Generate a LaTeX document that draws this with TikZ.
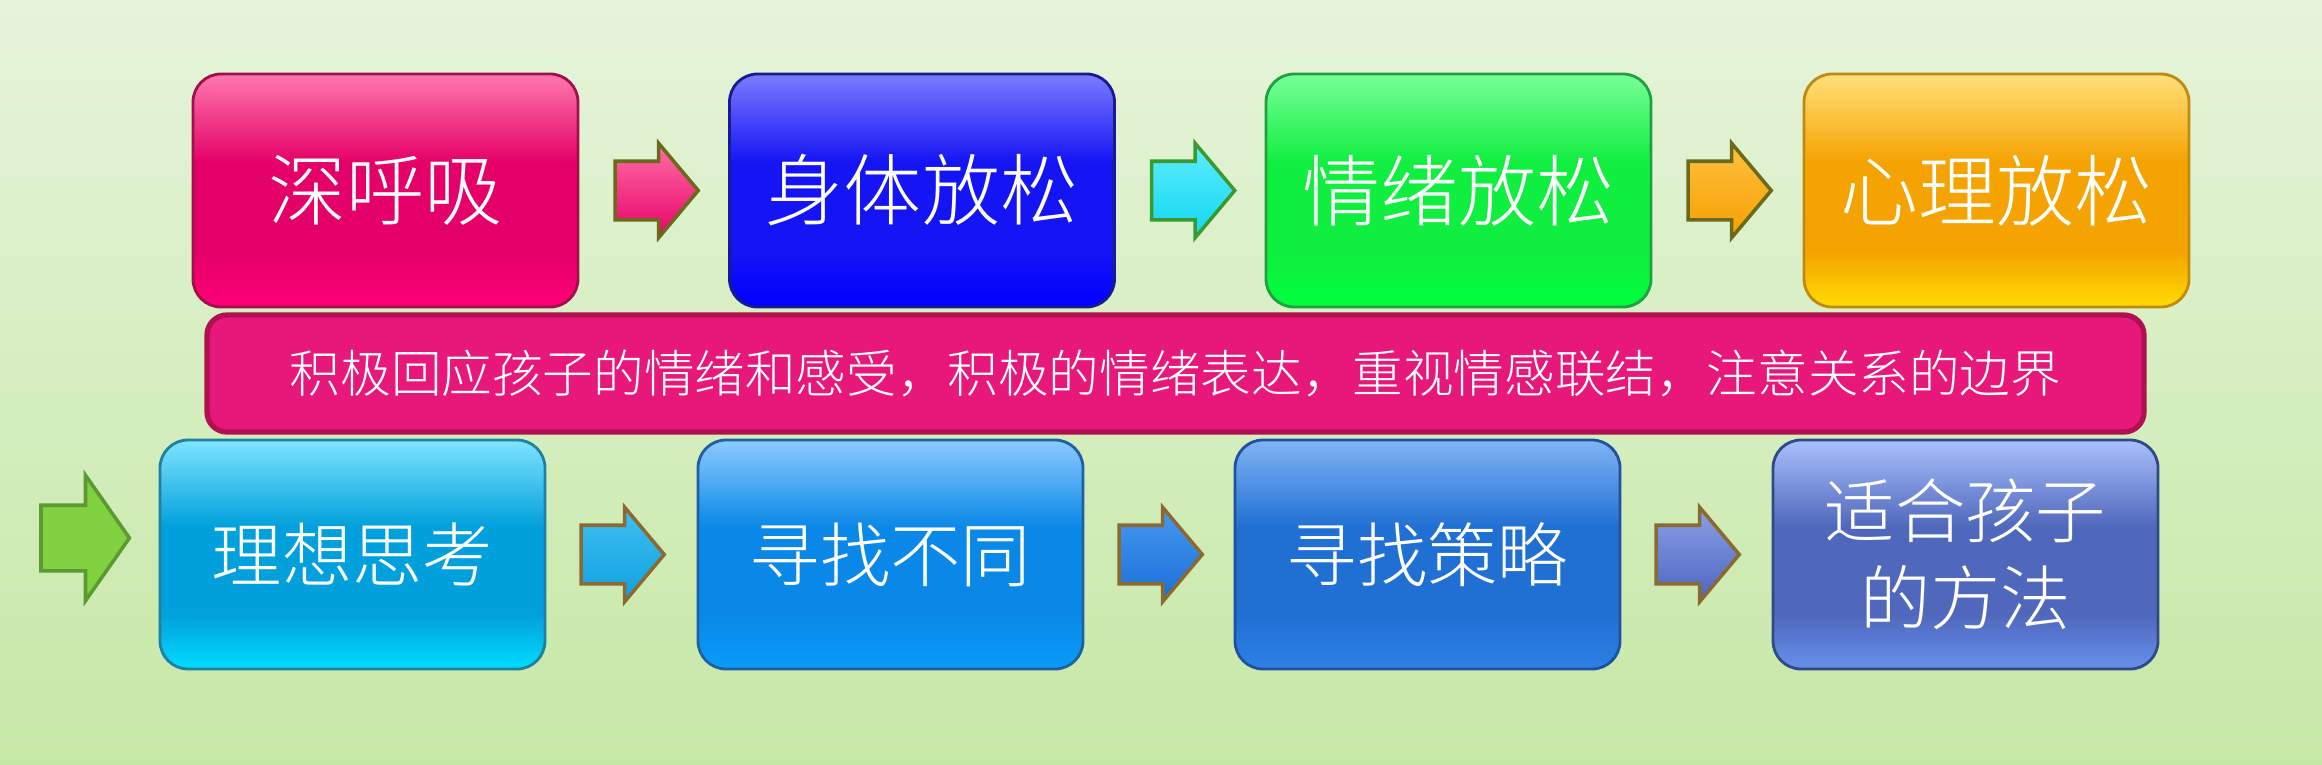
\documentclass[tikz,border=0pt]{standalone}
\usepackage{fontspec}
\IfFontExistsTF{Noto Sans CJK SC Light}
    {\newfontfamily\cjk{Noto Sans CJK SC Light}}
    {\newfontfamily\cjk{Noto Sans CJK SC}}
\usetikzlibrary{shapes.arrows}
\usetikzlibrary{positioning}

\definecolor{bgtop}{HTML}{E6F4DA}
\definecolor{bgbot}{HTML}{C6E8A6}
\definecolor{barfill}{HTML}{E8177A}
\definecolor{bardraw}{HTML}{B0104F}
\definecolor{olive}{HTML}{6A6A1A}
\definecolor{brownish}{HTML}{8A6A30}
% boxes: border, top, middle, bottom
\definecolor{Ad}{HTML}{A0104A}\definecolor{At}{HTML}{FF78AC}\definecolor{Am}{HTML}{E40068}\definecolor{Ab}{HTML}{FF0078}
\definecolor{Bd}{HTML}{1A1A90}\definecolor{Bt}{HTML}{7C7CFF}\definecolor{Bm}{HTML}{1414F4}\definecolor{Bb}{HTML}{0000FF}
\definecolor{Cd}{HTML}{20A040}\definecolor{Ct}{HTML}{78FF98}\definecolor{Cm}{HTML}{10EE40}\definecolor{Cb}{HTML}{00FF3C}
\definecolor{Dd}{HTML}{C08A10}\definecolor{Dt}{HTML}{FFE07A}\definecolor{Dm}{HTML}{F5A300}\definecolor{Db}{HTML}{FFDC00}
\definecolor{Ed}{HTML}{2080A0}\definecolor{Et}{HTML}{80E4FF}\definecolor{Em}{HTML}{00A0DC}\definecolor{Eb}{HTML}{00DCFF}
\definecolor{Fd}{HTML}{2060A0}\definecolor{Ft}{HTML}{8CCAFF}\definecolor{Fm}{HTML}{0A88E8}\definecolor{Fb}{HTML}{0A9CF8}
\definecolor{Gd}{HTML}{2050A0}\definecolor{Gt}{HTML}{80B4F4}\definecolor{Gm}{HTML}{2070D4}\definecolor{Gb}{HTML}{2E80E6}
\definecolor{Hd}{HTML}{304A88}\definecolor{Ht}{HTML}{A8C0FC}\definecolor{Hm}{HTML}{5068BC}\definecolor{Hb}{HTML}{6690EC}
% arrows: top, bottom
\definecolor{ABt}{HTML}{FF6FA6}\definecolor{ABb}{HTML}{E8006A}
\definecolor{BCt}{HTML}{60ECFF}\definecolor{BCb}{HTML}{10D8F0}\definecolor{BCd}{HTML}{3A9A30}
\definecolor{CDt}{HTML}{FFC040}\definecolor{CDb}{HTML}{F5A000}
\definecolor{EFt}{HTML}{40C0F0}\definecolor{EFb}{HTML}{0EA0E0}
\definecolor{FGt}{HTML}{4898F0}\definecolor{FGb}{HTML}{1A70D8}
\definecolor{GHt}{HTML}{8CA0E8}\definecolor{GHb}{HTML}{4A64C0}
\definecolor{Sd}{HTML}{5A9A30}\definecolor{Sf}{HTML}{80D040}

% light top, flat middle, brighter bottom
\colorlet{tc}{white}\colorlet{mc}{gray}\colorlet{bc}{black}
\pgfdeclareverticalshading[tc,mc,bc]{glossy}{100bp}{color(0bp)=(bc); color(25bp)=(bc);
    color(37bp)=(mc); color(56bp)=(mc); color(75bp)=(tc); color(100bp)=(tc)}

\tikzset{
glossy/.style n args={3}{shade, shading=glossy, /utils/exec={\colorlet{tc}{#1}\colorlet{mc}{#2}\colorlet{bc}{#3}}},
box/.style={rounded corners=0.28cm, minimum width=3.85cm, minimum height=2.33cm,
    text=white, align=center, line width=0.8pt, font=\cjk\fontsize{22.2}{27}\selectfont},
lowbox/.style={box, minimum height=2.29cm, font=\cjk\fontsize{20}{24.7}\selectfont},
blockarrow/.style={single arrow, inner sep=0.275cm, minimum height=0.79cm,
    single arrow head extend=0.18cm, single arrow tip angle=100, line width=1pt}
}

\begin{document}
\begin{tikzpicture}

    \shade[top color=bgtop, bottom color=bgbot] (0,0) rectangle (23.22,7.64);
    \useasboundingbox (0,0) rectangle (23.22,7.64);

    % first row
    \node[box, draw=Ad, glossy={At}{Am}{Ab}] (A) at (3.855,5.735) {深呼吸};
    \node[box, draw=Bd, glossy={Bt}{Bm}{Bb}] (B) at (9.22,5.735) {身体放松};
    \node[box, draw=Cd, glossy={Ct}{Cm}{Cb}] (C) at (14.585,5.735) {情绪放松};
    \node[box, draw=Dd, glossy={Dt}{Dm}{Db}] (D) at (19.965,5.735) {心理放松};

    \node[blockarrow, draw=olive, top color=ABt, bottom color=ABb, right=0.34cm of A] (AB) {};
    \node[blockarrow, draw=BCd, top color=BCt, bottom color=BCb, right=0.34cm of B] (BC) {};
    \node[blockarrow, draw=olive, top color=CDt, bottom color=CDb, right=0.34cm of C] (CD) {};

    % middle bar
    \node[rounded corners=0.2cm, draw=bardraw, fill=barfill, line width=1.5pt, minimum width=19.37cm, minimum height=1.17cm,
        text=white, font=\cjk\fontsize{14.4}{18}\selectfont] (M) at (11.755,3.905) {积极回应孩子的情绪和感受，积极的情绪表达，重视情感联结，注意关系的边界};

    % second row
    \node[lowbox, draw=Ed, glossy={Et}{Em}{Eb}] (E) at (3.525,2.095) {理想思考};
    \node[lowbox, draw=Fd, glossy={Ft}{Fm}{Fb}] (F) at (8.905,2.095) {寻找不同};
    \node[lowbox, draw=Gd, glossy={Gt}{Gm}{Gb}] (G) at (14.275,2.095) {寻找策略};
    \node[lowbox, draw=Hd, glossy={Ht}{Hm}{Hb}] (H) at (19.655,2.095) {适合孩子\\的方法};

    \node[blockarrow, inner sep=0.31cm, minimum height=0.83cm, single arrow head extend=0.3cm, single arrow tip angle=110,
        draw=Sd, fill=Sf, left=0.27cm of E, yshift=0.165cm] (S) {};
    \node[blockarrow, draw=brownish, top color=EFt, bottom color=EFb, right=0.33cm of E] (EF) {};
    \node[blockarrow, draw=brownish, top color=FGt, bottom color=FGb, right=0.33cm of F] (FG) {};
    \node[blockarrow, draw=brownish, top color=GHt, bottom color=GHb, right=0.33cm of G] (GH) {};

\end{tikzpicture}
\end{document}
